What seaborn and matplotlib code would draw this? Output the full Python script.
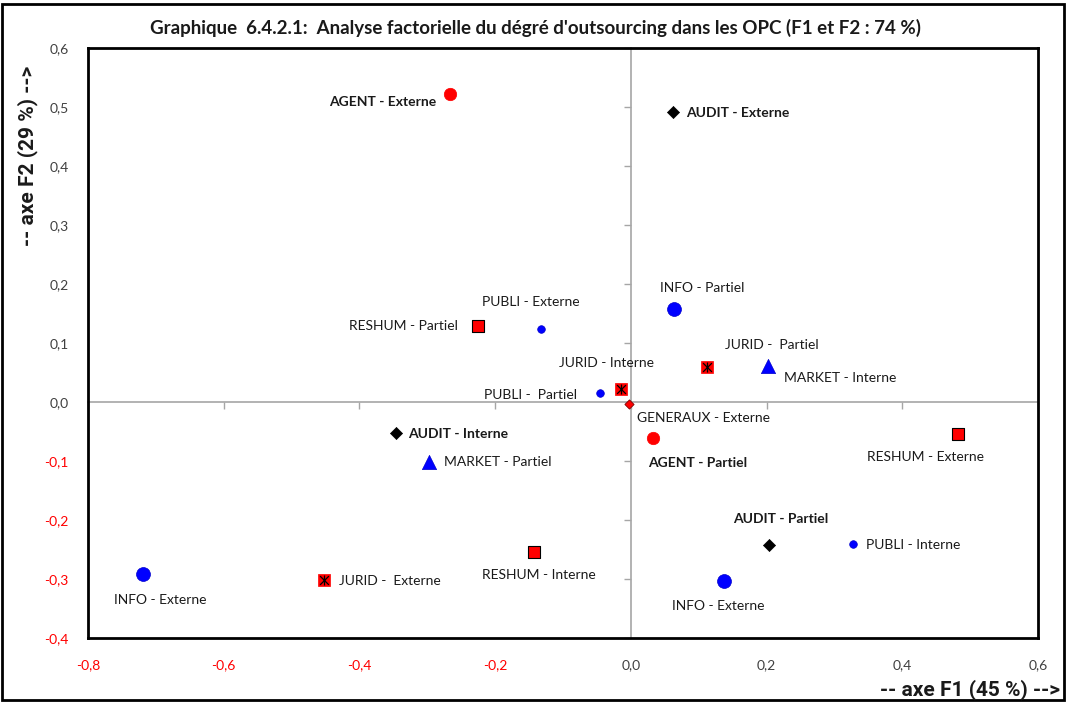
#!/usr/bin/env python3
import matplotlib
matplotlib.use("Agg")
import matplotlib.pyplot as plt
from matplotlib.patches import Rectangle
import seaborn as sns
import pandas as pd

# --- donnees ---
libelles = ["AGENT - Externe", "AUDIT - Externe", "INFO - Partiel", "PUBLI - Externe",
            "RESHUM - Partiel", "JURID - Interne", "PUBLI -  Partiel", "GENERAUX - Externe",
            "JURID -  Partiel", "MARKET - Interne", "AGENT - Partiel", "RESHUM - Externe",
            "AUDIT - Interne", "MARKET - Partiel", "INFO - Externe", "JURID -  Externe",
            "RESHUM - Interne", "AUDIT - Partiel", "PUBLI - Interne", "INFO - Externe"]
fonction = ["AGENT", "AUDIT", "INFO", "PUBLI", "RESHUM", "JURID", "PUBLI", "GENERAUX",
            "JURID", "MARKET", "AGENT", "RESHUM", "AUDIT", "MARKET", "INFO", "JURID",
            "RESHUM", "AUDIT", "PUBLI", "INFO"]
f1 = [-0.267, 0.062, 0.063, -0.133, -0.225, -0.015, -0.046, -0.002, 0.112, 0.202,
      0.032, 0.482, -0.346, -0.298, -0.719, -0.452, -0.143, 0.203, 0.327, 0.137]
f2 = [0.522, 0.492, 0.158, 0.124, 0.129, 0.022, 0.015, -0.003, 0.059, 0.061,
      -0.061, -0.055, -0.053, -0.102, -0.292, -0.302, -0.255, -0.243, -0.241, -0.304]

xticks = [-0.8, -0.6, -0.4, -0.2, 0.0, 0.2, 0.4, 0.6]
xtick_labels = ["-0,8", "-0,6", "-0,4", "-0,2", "0,0", "0,2", "0,4", "0,6"]
yticks = [-0.4, -0.3, -0.2, -0.1, 0.0, 0.1, 0.2, 0.3, 0.4, 0.5, 0.6]
ytick_labels = ["-0,4", "-0,3", "-0,2", "-0,1", "0,0", "0,1", "0,2", "0,3", "0,4", "0,5", "0,6"]

df = pd.DataFrame({"libelle": libelles, "fonction": fonction, "F1": f1, "F2": f2})

# --- styles par fonction ---
styles = {
    "AGENT":    dict(marker="o", color="#ff0000", s=80, edgecolor="#ff0000", linewidth=0.5),
    "AUDIT":    dict(marker="D", color="black", s=38, edgecolor="black", linewidth=0.5),
    "INFO":     dict(marker="o", color="#0000ff", s=100, edgecolor="#0000cc", linewidth=0.5),
    "PUBLI":    dict(marker="o", color="#0000ff", s=30, edgecolor="#0000cc", linewidth=0.5),
    "RESHUM":   dict(marker="s", color="#ff0000", s=70, edgecolor="black", linewidth=0.8),
    "JURID":    dict(marker="s", color="#ff0000", s=75, edgecolor="#ff0000", linewidth=0.5),
    "MARKET":   dict(marker="^", color="#0000ff", s=105, edgecolor="#0000cc", linewidth=0.5),
    "GENERAUX": dict(marker="D", color="#ff0000", s=22, edgecolor="#800000", linewidth=0.6),
}
gras = {"AGENT", "AUDIT"}

# decalage des etiquettes (pixels) et alignement
decal = {
    0: (-13, -8, "right"), 1: (13, -1, "left"), 2: (29, 21, "center"), 3: (-10, 27, "center"),
    4: (-20, 0, "right"), 5: (-14, 26, "center"), 6: (-23, -2, "right"), 7: (8, -14, "left"),
    8: (65, 22, "center"), 9: (16, -12, "left"), 10: (-4, -25, "left"), 11: (-32, -23, "center"),
    12: (12, -1, "left"), 13: (15, 0, "left"), 14: (17, -26, "center"), 15: (15, -1, "left"),
    16: (5, -23, "center"), 17: (12, 26, "center"), 18: (13, -1, "left"), 19: (-6, -25, "center"),
}

sns.set_theme(style="white")
plt.rcParams["font.family"] = ["Lato", "DejaVu Sans"]
etroite = ["Liberation Sans Narrow", "Roboto", "DejaVu Sans"]

fig = plt.figure(figsize=(10.67, 7.02), dpi=100)
pos = [0.0825, 0.0912, 0.8903, 0.8404]

# axes du fond : croix grise passant par zero
ax0 = fig.add_axes(pos)
ax0.set_xlim(-0.8, 0.6)
ax0.set_ylim(-0.4, 0.6)
for s in ["top", "right"]:
    ax0.spines[s].set_visible(False)
for s in ["left", "bottom"]:
    ax0.spines[s].set_position("zero")
    ax0.spines[s].set_color("#a6a6a6")
    ax0.spines[s].set_linewidth(1.2)
ax0.set_xticks(xticks)
ax0.set_yticks(yticks)
ax0.tick_params(direction="out", length=5, width=1, color="#a6a6a6",
                labelleft=False, labelbottom=False, left=True, bottom=True)

# axes principal
ax = fig.add_axes(pos)
ax.set_facecolor("none")
for g, st in styles.items():
    sub = df[df.fonction == g]
    sns.scatterplot(data=sub, x="F1", y="F2", ax=ax, zorder=3, legend=False, **st)
    if g == "JURID":
        sns.scatterplot(data=sub, x="F1", y="F2", ax=ax, marker="x", color="black",
                        s=40, linewidth=0.9, zorder=4, legend=False)
        sns.scatterplot(data=sub, x="F1", y="F2", ax=ax, marker="|", color="black",
                        s=55, linewidth=0.9, zorder=4, legend=False)

for i, row in df.iterrows():
    dx, dy, ha = decal[i]
    ax.annotate(row.libelle, (row.F1, row.F2), xytext=(dx, dy), textcoords="offset pixels",
                ha=ha, va="center", fontsize=10, color="#1a1a1a",
                fontweight="bold" if row.fonction in gras else "normal")

ax.set_xlim(-0.8, 0.6)
ax.set_ylim(-0.4, 0.6)
ax.set_xticks(xticks)
ax.set_xticklabels(xtick_labels)
ax.set_yticks(yticks)
ax.set_yticklabels(ytick_labels)
ax.set_xlabel("")
ax.set_ylabel("")
ax.tick_params(axis="x", length=0, pad=15, labelsize=10)
ax.tick_params(axis="y", length=0, pad=14, labelsize=10)
for lbl, v in zip(ax.get_xticklabels(), xticks):
    lbl.set_color("#ff0000" if v < 0 else "#404040")
for lbl, v in zip(ax.get_yticklabels(), yticks):
    lbl.set_color("#ff0000" if v < 0 else "#404040")
for s in ax.spines.values():
    s.set_color("black")
    s.set_linewidth(2)

fig.text(0.502, 1 - 28 / 702, "Graphique  6.4.2.1:  Analyse factorielle du dégré d'outsourcing dans les OPC (F1 et F2 : 74 %)",
         ha="center", va="center", fontsize=13.5, fontweight="bold", color="#1a1a1a")
fig.text(0.026, 1 - 66 / 702, "-- axe F2 (29 %) -->", rotation=90, ha="center", va="top",
         fontsize=15, fontweight="bold", color="#1a1a1a", family=etroite)
fig.text(1060 / 1067, 1 - 690 / 702, "-- axe F1 (45 %) -->", ha="right", va="center",
         fontsize=15, fontweight="bold", color="#1a1a1a", family=etroite)

fig.patches.append(Rectangle((0.002, 0.003), 0.995, 0.992, transform=fig.transFigure,
                             fill=False, edgecolor="black", linewidth=2))

fig.savefig("out.png", dpi=100)
